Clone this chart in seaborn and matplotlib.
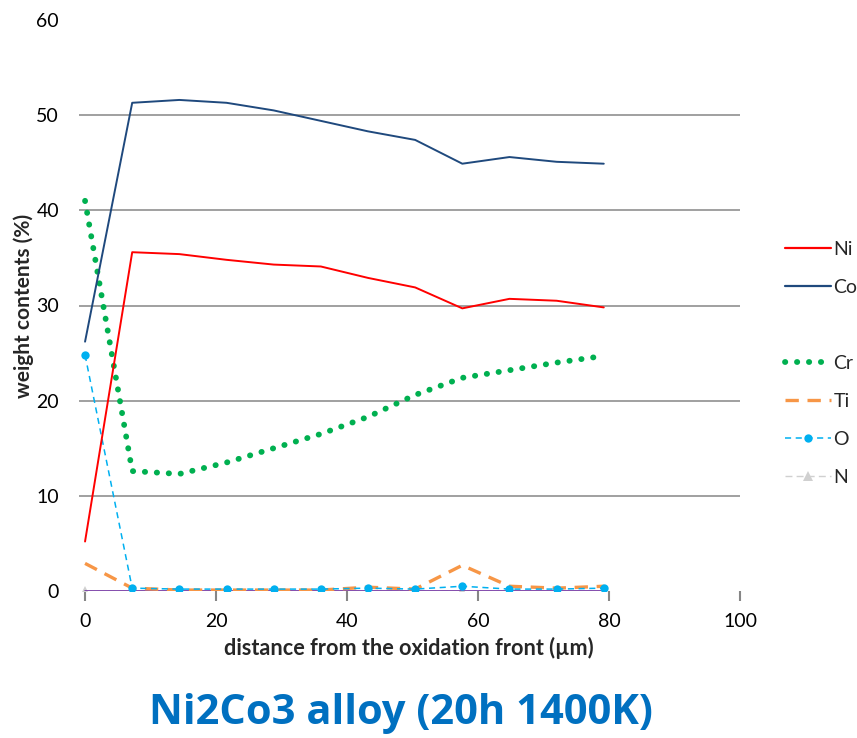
import numpy as np
import pandas as pd
import matplotlib
matplotlib.use("Agg")
import matplotlib.pyplot as plt
from matplotlib.lines import Line2D
import seaborn as sns

# distance from the oxidation front (um)
distance = [0, 7.2, 14.4, 21.6, 28.8, 36.0, 43.2, 50.4, 57.6, 64.8, 72.0, 79.2]

ni = [5.2, 35.6, 35.4, 34.8, 34.3, 34.1, 32.9, 31.9, 29.7, 30.7, 30.5, 29.8]
co = [26.2, 51.3, 51.6, 51.3, 50.5, 49.4, 48.3, 47.4, 44.9, 45.6, 45.1, 44.9]
cr = [41.0, 12.6, 12.3, 13.5, 15.0, 16.5, 18.3, 20.6, 22.4, 23.2, 24.0, 24.7]
ti = [2.9, 0.3, 0.1, 0.1, 0.1, 0.1, 0.4, 0.2, 2.7, 0.5, 0.3, 0.5]
o_ = [24.8, 0.3, 0.2, 0.2, 0.2, 0.2, 0.3, 0.2, 0.5, 0.2, 0.2, 0.3]
n_ = [0.05, 0.05, 0.05, 0.05, 0.05, 0.05, 0.05, 0.05, 0.05, 0.05, 0.05, 0.05]
other = [0.0] * 12

sns.set_style("white")
plt.rcParams["font.family"] = ["Lato", "DejaVu Sans"]

fig = plt.figure(figsize=(8.57, 7.38), dpi=100)
ax = fig.add_axes([78.5 / 857, 1 - 591 / 738, (740 - 78.5) / 857, (591 - 20) / 738])

df = pd.DataFrame({"x": distance, "Ni": ni, "Co": co, "Cr": cr, "Ti": ti,
                   "O": o_, "N": n_, "other": other})

sns.lineplot(data=df, x="x", y="other", ax=ax, color="#7030A0", lw=1.2,
             estimator=None, sort=False, zorder=3)
sns.lineplot(data=df, x="x", y="N", ax=ax, color="#D0D0D0", lw=1.0,
             linestyle=(0, (5, 3)), marker="^", markersize=7, markeredgewidth=0,
             estimator=None, sort=False, zorder=2)
sns.lineplot(data=df, x="x", y="Ti", ax=ax, color="#F79646", lw=2.4,
             linestyle=(0, (4, 2.6)), estimator=None, sort=False, zorder=4)
sns.lineplot(data=df, x="x", y="O", ax=ax, color="#00B0F0", lw=1.1,
             linestyle=(0, (4, 3)), marker="o", markersize=6, markeredgewidth=0,
             estimator=None, sort=False, zorder=5)
sns.lineplot(data=df, x="x", y="Cr", ax=ax, color="#00B050", lw=4.2,
             linestyle=(0, (0.05, 2.0)), estimator=None, sort=False, zorder=6)
ax.lines[-1].set_dash_capstyle("round")
sns.lineplot(data=df, x="x", y="Co", ax=ax, color="#1F497D", lw=1.4,
             estimator=None, sort=False, zorder=7)
sns.lineplot(data=df, x="x", y="Ni", ax=ax, color="#FF0000", lw=1.4,
             estimator=None, sort=False, zorder=8)

ax.set_xlim(-1, 100)
ax.set_ylim(0, 60)
ax.set_xticks([0, 20, 40, 60, 80, 100])
ax.set_yticks([0, 10, 20, 30, 40, 50, 60])
for v in [10, 20, 30, 40, 50]:
    ax.axhline(v, color="#868686", lw=1.1, zorder=1)
for s in ax.spines.values():
    s.set_visible(False)
ax.tick_params(axis="x", length=7, width=1.5, color="#868686", pad=9,
               labelsize=14, labelcolor="black", direction="out", bottom=True)
ax.tick_params(axis="y", length=0, pad=14, labelsize=14, labelcolor="black")
ax.set_xlabel("distance from the oxidation front (\u00b5m)", fontsize=15.6,
              fontweight="bold", labelpad=5)
ax.set_ylabel("weight contents (%)", fontsize=15, fontweight="bold", labelpad=1.5)

handles = [
    Line2D([], [], color="#FF0000", lw=1.6),
    Line2D([], [], color="#1F497D", lw=1.6),
    Line2D([], [], color="none"),
    Line2D([], [], color="#00B050", lw=4.2, linestyle=(0, (0.05, 2.0)),
           dash_capstyle="round"),
    Line2D([], [], color="#F79646", lw=2.4, linestyle=(0, (4, 2.6))),
    Line2D([], [], color="#00B0F0", lw=1.1, linestyle=(0, (4, 3)), marker="o",
           markersize=6, markeredgewidth=0),
    Line2D([], [], color="#D0D0D0", lw=1.0, linestyle=(0, (5, 3)), marker="^",
           markersize=7, markeredgewidth=0),
]
labels = ["Ni", "Co", " ", "Cr", "Ti", "O", "N"]
fig.legend(handles, labels, loc="upper left", bbox_to_anchor=(777 / 857, 1 - 233 / 738),
           frameon=False, fontsize=14, handlelength=2.4, handletextpad=0.1,
           labelspacing=1.08, borderaxespad=0)

fig.text(401 / 857, 1 - 713 / 738, "Ni2Co3 alloy (20h 1400K)", color="#0070C0",
         fontsize=30, fontweight="bold", ha="center", va="center",
         family=["Open Sans", "DejaVu Sans"])

fig.savefig("out.png", dpi=100)
